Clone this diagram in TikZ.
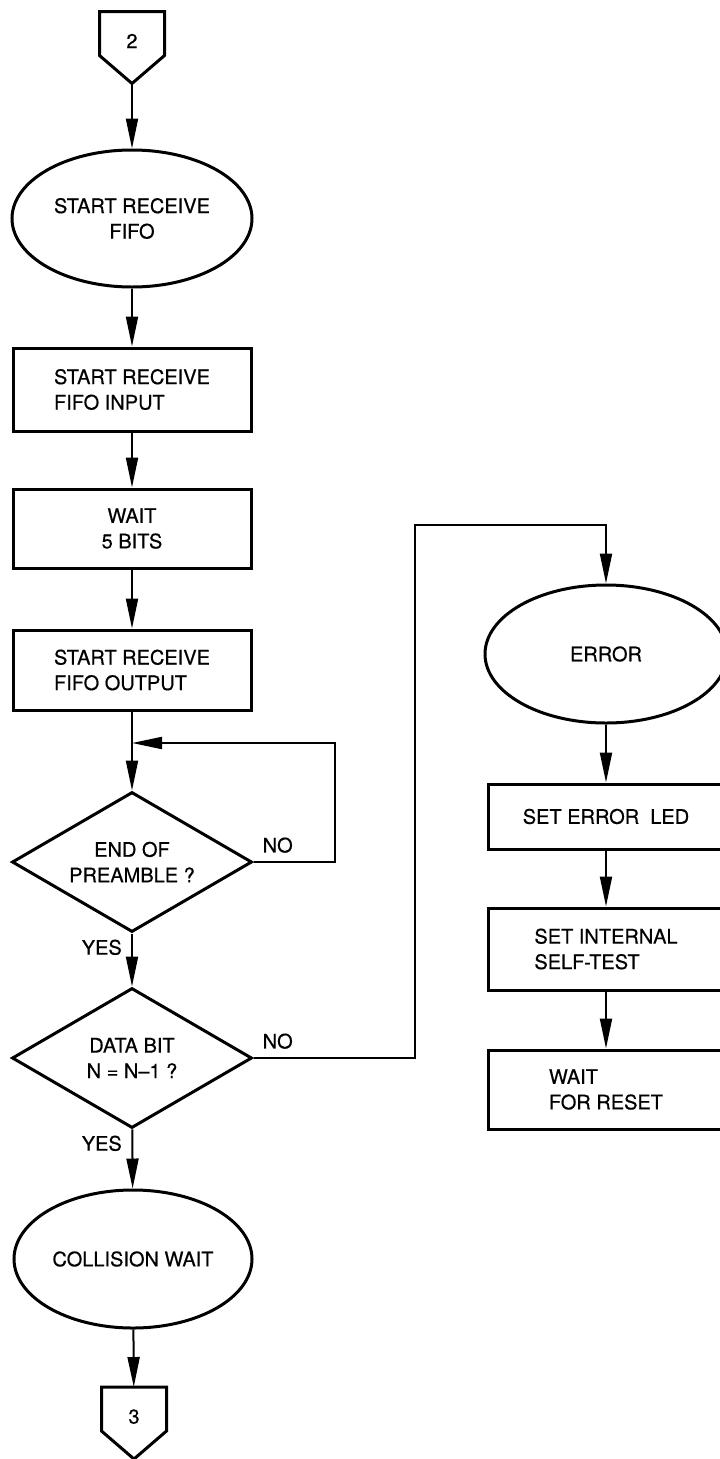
\documentclass[tikz,border=0pt]{standalone}
\usepackage{fontspec}
\setmainfont[FakeBold=0.5]{TeX Gyre Heros}
\usetikzlibrary{positioning,arrows.meta,shapes.geometric}
\tikzset{
  base/.style={draw,line width=3pt,align=center,inner sep=0pt,
              font=\fontsize{20}{25.5}\selectfont},
  proc/.style={base,rectangle,minimum width=238pt},
  term/.style={base,ellipse,minimum width=240pt,minimum height=137pt},
  dec/.style={base,diamond,aspect=1.7,minimum width=240pt,minimum height=140pt},
  conn/.style={base,draw=none,rectangle,minimum width=62pt,minimum height=69pt,text depth=13pt},
  connline/.style={line width=3pt,line join=miter},
  flow/.style={-{Triangle[length=30pt,width=12pt]},line width=2pt},
  lbl/.style={inner sep=0pt,font=\fontsize{20}{24}\selectfont},
}
\begin{document}
\begin{tikzpicture}[x=1pt,y=1pt]
  \useasboundingbox (0,0) rectangle (720,-1459);
  \clip (0,0) rectangle (720,-1459);
  % main column
  \node[conn] (c2) at (132,-47.5) {2};
  \node[term] (rcv) at (132,-218.5) {START RECEIVE\\FIFO};
  \node[proc,minimum height=83pt,align=left] (fin) at (132,-389.5) {START RECEIVE\\FIFO INPUT};
  \node[proc,minimum height=79pt] (w5) at (132,-528.5) {WAIT\\5 BITS};
  \node[proc,minimum height=80pt,align=left] (fout) at (132,-670) {START RECEIVE\\FIFO OUTPUT};
  \node[dec] (eop) at (132,-862) {END OF\\PREAMBLE ?};
  \node[dec] (dbit) at (132,-1058) {DATA BIT\\N = N--1 ?};
  \node[term,minimum width=238pt,minimum height=138pt] (coll) at (133,-1259) {COLLISION WAIT};
  \node[conn] (c3) at (134,-1423) {3};
  \foreach \c in {c2,c3}
    \draw[connline] (\c.north west) -- (\c.north east) -- ([yshift=28pt]\c.south east)
      -- (\c.south) -- ([yshift=28pt]\c.south west) -- cycle;
  % error column
  \node[term,minimum width=242pt,minimum height=138pt] (err) at (606,-654) {ERROR};
  \node[proc,minimum width=235pt,minimum height=65pt] (led) at (606,-816.5) {SET ERROR\ \ LED};
  \node[proc,minimum width=235pt,minimum height=82pt,align=left] (self) at (606,-949) {SET INTERNAL\\SELF-TEST};
  \node[proc,minimum width=235pt,minimum height=79pt,align=left] (rst) at (606,-1089.5) {WAIT\\FOR RESET};
  % labels
  \node[lbl,above right=9pt and 9pt of eop.east] (no1) {NO};
  \node[lbl,below left=6pt and 10pt of eop.south] (yes1) {YES};
  \node[lbl,above right=9pt and 9pt of dbit.east] (no2) {NO};
  \node[lbl,below left=6pt and 10pt of dbit.south] (yes2) {YES};
  \coordinate (loop) at (335,-743);
  \coordinate (join) at (fout.south |- loop);
  \coordinate (bend) at (415,-525);
  \draw[flow] (c2) -- (rcv);
  \draw[flow] (rcv) -- (fin);
  \draw[flow] (fin) -- (w5);
  \draw[flow] (w5) -- (fout);
  \draw[flow] (fout) -- (eop);
  \draw[flow] (eop.east) -| (loop) -- (join);
  \draw[flow] (eop) -- (dbit);
  \draw[flow] (dbit) -- (coll);
  \draw[flow] (coll) -- (c3);
  \draw[flow] (dbit.east) -| (bend) -| (err.north);
  \draw[flow] (err) -- (led);
  \draw[flow] (led) -- (self);
  \draw[flow] (self) -- (rst);
\end{tikzpicture}
\end{document}
